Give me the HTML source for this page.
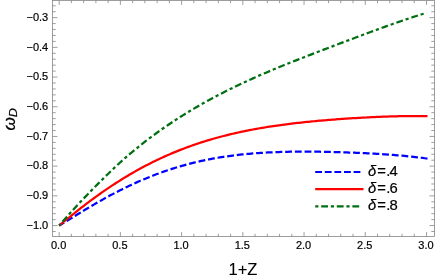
<!DOCTYPE html>
<html><head><meta charset="utf-8"><title>plot</title>
<style>
html,body{margin:0;padding:0;background:#fff;}
body{width:436px;height:280px;overflow:hidden;}
svg{display:block;will-change:transform;}
text{font-family:"Liberation Sans",sans-serif;fill:#000;stroke:#000;stroke-width:0.2px;}
</style></head><body>
<svg width="436" height="280" viewBox="0 0 436 280">
<rect x="0" y="0" width="436" height="280" fill="#fff"/>
<g fill="none" stroke-width="2.25" stroke-linejoin="round">
<path d="M59.15,225.55 L59.15,225.55 L61.00,224.42 L62.84,223.30 L64.69,222.19 L66.53,221.07 L68.38,219.96 L70.23,218.84 L72.07,217.72 L73.92,216.59 L75.76,215.44 L77.61,214.30 L79.46,213.17 L81.30,212.04 L83.15,210.92 L84.99,209.81 L86.84,208.71 L88.69,207.61 L90.53,206.52 L92.38,205.43 L94.22,204.36 L96.07,203.29 L97.92,202.23 L99.76,201.19 L101.61,200.15 L103.45,199.12 L105.30,198.10 L107.15,197.09 L108.99,196.09 L110.84,195.10 L112.68,194.12 L114.53,193.15 L116.38,192.19 L118.22,191.24 L120.07,190.31 L121.91,189.38 L123.76,188.47 L125.61,187.57 L127.45,186.68 L129.30,185.80 L131.14,184.93 L132.99,184.08 L134.84,183.23 L136.68,182.40 L138.53,181.58 L140.37,180.77 L142.22,179.98 L144.07,179.19 L145.91,178.42 L147.76,177.67 L149.60,176.92 L151.45,176.19 L153.29,175.46 L155.14,174.75 L156.99,174.06 L158.83,173.37 L160.68,172.70 L162.52,172.04 L164.37,171.39 L166.22,170.76 L168.06,170.14 L169.91,169.53 L171.75,168.93 L173.60,168.34 L175.45,167.77 L177.29,167.21 L179.14,166.66 L180.98,166.12 L182.83,165.59 L184.68,165.08 L186.52,164.58 L188.37,164.08 L190.21,163.61 L192.06,163.14 L193.91,162.68 L195.75,162.24 L197.60,161.80 L199.44,161.38 L201.29,160.97 L203.14,160.57 L204.98,160.18 L206.83,159.80 L208.67,159.43 L210.52,159.07 L212.37,158.73 L214.21,158.39 L216.06,158.06 L217.90,157.75 L219.75,157.44 L221.60,157.14 L223.44,156.85 L225.29,156.58 L227.13,156.31 L228.98,156.05 L230.83,155.80 L232.67,155.56 L234.52,155.32 L236.36,155.10 L238.21,154.89 L240.06,154.68 L241.90,154.48 L243.75,154.29 L245.59,154.11 L247.44,153.93 L249.29,153.76 L251.13,153.60 L252.98,153.45 L254.82,153.31 L256.67,153.17 L258.52,153.04 L260.36,152.92 L262.21,152.80 L264.05,152.69 L265.90,152.58 L267.75,152.48 L269.59,152.39 L271.44,152.31 L273.28,152.23 L275.13,152.15 L276.98,152.08 L278.82,152.02 L280.67,151.96 L282.51,151.91 L284.36,151.86 L286.21,151.82 L288.05,151.78 L289.90,151.74 L291.74,151.71 L293.59,151.69 L295.44,151.67 L297.28,151.65 L299.13,151.64 L300.97,151.63 L302.82,151.63 L304.67,151.63 L306.51,151.63 L308.36,151.63 L310.20,151.64 L312.05,151.66 L313.90,151.67 L315.74,151.69 L317.59,151.72 L319.43,151.74 L321.28,151.77 L323.13,151.80 L324.97,151.84 L326.82,151.87 L328.66,151.91 L330.51,151.95 L332.36,152.00 L334.20,152.05 L336.05,152.10 L337.89,152.15 L339.74,152.21 L341.58,152.26 L343.43,152.32 L345.28,152.39 L347.12,152.45 L348.97,152.52 L350.81,152.59 L352.66,152.66 L354.51,152.73 L356.35,152.81 L358.20,152.89 L360.04,152.97 L361.89,153.06 L363.74,153.14 L365.58,153.23 L367.43,153.33 L369.27,153.42 L371.12,153.52 L372.97,153.62 L374.81,153.73 L376.66,153.83 L378.50,153.95 L380.35,154.06 L382.20,154.18 L384.04,154.30 L385.89,154.42 L387.73,154.55 L389.58,154.69 L391.43,154.82 L393.27,154.96 L395.12,155.11 L396.96,155.26 L398.81,155.42 L400.66,155.58 L402.50,155.74 L404.35,155.92 L406.19,156.09 L408.04,156.28 L409.89,156.47 L411.73,156.66 L413.58,156.87 L415.42,157.08 L417.27,157.29 L419.12,157.52 L420.96,157.75 L422.81,157.99 L424.65,158.24 L426.50,158.50 L427.49,158.64" stroke="#0000ff" stroke-dasharray="6.85 2.85" stroke-dashoffset="1"/>
<path d="M59.15,225.55 L59.15,225.55 L61.00,224.02 L62.84,222.50 L64.69,220.99 L66.53,219.49 L68.38,218.01 L70.23,216.52 L72.07,215.04 L73.92,213.57 L75.76,212.09 L77.61,210.62 L79.46,209.16 L81.30,207.72 L83.15,206.28 L84.99,204.87 L86.84,203.46 L88.69,202.07 L90.53,200.69 L92.38,199.32 L94.22,197.97 L96.07,196.63 L97.92,195.30 L99.76,193.99 L101.61,192.69 L103.45,191.40 L105.30,190.13 L107.15,188.87 L108.99,187.62 L110.84,186.39 L112.68,185.17 L114.53,183.97 L116.38,182.78 L118.22,181.60 L120.07,180.44 L121.91,179.29 L123.76,178.16 L125.61,177.04 L127.45,175.93 L129.30,174.83 L131.14,173.75 L132.99,172.69 L134.84,171.64 L136.68,170.60 L138.53,169.57 L140.37,168.56 L142.22,167.56 L144.07,166.58 L145.91,165.61 L147.76,164.65 L149.60,163.71 L151.45,162.78 L153.29,161.86 L155.14,160.95 L156.99,160.06 L158.83,159.18 L160.68,158.32 L162.52,157.47 L164.37,156.63 L166.22,155.80 L168.06,154.99 L169.91,154.19 L171.75,153.40 L173.60,152.62 L175.45,151.86 L177.29,151.11 L179.14,150.37 L180.98,149.64 L182.83,148.93 L184.68,148.23 L186.52,147.54 L188.37,146.86 L190.21,146.19 L192.06,145.53 L193.91,144.89 L195.75,144.25 L197.60,143.63 L199.44,143.02 L201.29,142.42 L203.14,141.83 L204.98,141.25 L206.83,140.68 L208.67,140.12 L210.52,139.57 L212.37,139.03 L214.21,138.50 L216.06,137.99 L217.90,137.48 L219.75,136.98 L221.60,136.49 L223.44,136.01 L225.29,135.54 L227.13,135.08 L228.98,134.62 L230.83,134.18 L232.67,133.74 L234.52,133.32 L236.36,132.90 L238.21,132.49 L240.06,132.09 L241.90,131.69 L243.75,131.31 L245.59,130.93 L247.44,130.56 L249.29,130.19 L251.13,129.84 L252.98,129.49 L254.82,129.15 L256.67,128.82 L258.52,128.49 L260.36,128.17 L262.21,127.85 L264.05,127.55 L265.90,127.24 L267.75,126.95 L269.59,126.66 L271.44,126.38 L273.28,126.10 L275.13,125.83 L276.98,125.56 L278.82,125.30 L280.67,125.05 L282.51,124.80 L284.36,124.55 L286.21,124.31 L288.05,124.08 L289.90,123.85 L291.74,123.62 L293.59,123.40 L295.44,123.19 L297.28,122.97 L299.13,122.77 L300.97,122.56 L302.82,122.36 L304.67,122.17 L306.51,121.98 L308.36,121.79 L310.20,121.61 L312.05,121.42 L313.90,121.25 L315.74,121.07 L317.59,120.90 L319.43,120.74 L321.28,120.57 L323.13,120.41 L324.97,120.26 L326.82,120.10 L328.66,119.95 L330.51,119.80 L332.36,119.66 L334.20,119.52 L336.05,119.38 L337.89,119.24 L339.74,119.11 L341.58,118.97 L343.43,118.85 L345.28,118.72 L347.12,118.60 L348.97,118.47 L350.81,118.36 L352.66,118.24 L354.51,118.13 L356.35,118.02 L358.20,117.91 L360.04,117.80 L361.89,117.70 L363.74,117.60 L365.58,117.50 L367.43,117.40 L369.27,117.31 L371.12,117.22 L372.97,117.13 L374.81,117.05 L376.66,116.97 L378.50,116.89 L380.35,116.81 L382.20,116.74 L384.04,116.67 L385.89,116.60 L387.73,116.54 L389.58,116.48 L391.43,116.42 L393.27,116.37 L395.12,116.32 L396.96,116.27 L398.81,116.23 L400.66,116.19 L402.50,116.16 L404.35,116.13 L406.19,116.10 L408.04,116.08 L409.89,116.06 L411.73,116.05 L413.58,116.04 L415.42,116.04 L417.27,116.04 L419.12,116.05 L420.96,116.06 L422.81,116.08 L424.65,116.10 L426.50,116.13 L427.50,116.15" stroke="#ff0000"/>
<path d="M59.15,225.55 L59.15,225.55 L61.00,223.43 L62.84,221.32 L64.69,219.22 L66.53,217.14 L68.38,215.07 L70.23,213.02 L72.07,210.98 L73.92,208.95 L75.76,206.94 L77.61,204.95 L79.46,202.97 L81.30,201.00 L83.15,199.05 L84.99,197.11 L86.84,195.19 L88.69,193.28 L90.53,191.39 L92.38,189.50 L94.22,187.62 L96.07,185.75 L97.92,183.89 L99.76,182.03 L101.61,180.19 L103.45,178.36 L105.30,176.53 L107.15,174.73 L108.99,172.93 L110.84,171.15 L112.68,169.39 L114.53,167.64 L116.38,165.91 L118.22,164.20 L120.07,162.51 L121.91,160.84 L123.76,159.19 L125.61,157.57 L127.45,155.96 L129.30,154.38 L131.14,152.83 L132.99,151.29 L134.84,149.77 L136.68,148.26 L138.53,146.77 L140.37,145.30 L142.22,143.84 L144.07,142.40 L145.91,140.98 L147.76,139.57 L149.60,138.17 L151.45,136.79 L153.29,135.42 L155.14,134.07 L156.99,132.73 L158.83,131.40 L160.68,130.09 L162.52,128.79 L164.37,127.50 L166.22,126.23 L168.06,124.97 L169.91,123.72 L171.75,122.49 L173.60,121.26 L175.45,120.06 L177.29,118.86 L179.14,117.68 L180.98,116.50 L182.83,115.34 L184.68,114.20 L186.52,113.06 L188.37,111.93 L190.21,110.82 L192.06,109.71 L193.91,108.62 L195.75,107.54 L197.60,106.46 L199.44,105.40 L201.29,104.34 L203.14,103.30 L204.98,102.27 L206.83,101.24 L208.67,100.23 L210.52,99.22 L212.37,98.22 L214.21,97.24 L216.06,96.26 L217.90,95.29 L219.75,94.33 L221.60,93.38 L223.44,92.43 L225.29,91.50 L227.13,90.57 L228.98,89.65 L230.83,88.74 L232.67,87.83 L234.52,86.94 L236.36,86.05 L238.21,85.17 L240.06,84.29 L241.90,83.42 L243.75,82.56 L245.59,81.71 L247.44,80.86 L249.29,80.02 L251.13,79.18 L252.98,78.35 L254.82,77.53 L256.67,76.71 L258.52,75.90 L260.36,75.09 L262.21,74.29 L264.05,73.49 L265.90,72.70 L267.75,71.92 L269.59,71.13 L271.44,70.36 L273.28,69.58 L275.13,68.82 L276.98,68.05 L278.82,67.29 L280.67,66.53 L282.51,65.78 L284.36,65.03 L286.21,64.29 L288.05,63.54 L289.90,62.80 L291.74,62.07 L293.59,61.33 L295.44,60.60 L297.28,59.87 L299.13,59.15 L300.97,58.42 L302.82,57.70 L304.67,56.98 L306.51,56.26 L308.36,55.55 L310.20,54.83 L312.05,54.12 L313.90,53.41 L315.74,52.70 L317.59,51.99 L319.43,51.28 L321.28,50.58 L323.13,49.87 L324.97,49.17 L326.82,48.46 L328.66,47.76 L330.51,47.06 L332.36,46.36 L334.20,45.66 L336.05,44.96 L337.89,44.26 L339.74,43.56 L341.58,42.86 L343.43,42.17 L345.28,41.47 L347.12,40.77 L348.97,40.08 L350.81,39.38 L352.66,38.69 L354.51,37.99 L356.35,37.30 L358.20,36.61 L360.04,35.92 L361.89,35.23 L363.74,34.54 L365.58,33.86 L367.43,33.17 L369.27,32.49 L371.12,31.81 L372.97,31.13 L374.81,30.45 L376.66,29.78 L378.50,29.10 L380.35,28.43 L382.20,27.76 L384.04,27.10 L385.89,26.43 L387.73,25.77 L389.58,25.11 L391.43,24.46 L393.27,23.80 L395.12,23.15 L396.96,22.51 L398.81,21.87 L400.66,21.23 L402.50,20.59 L404.35,19.96 L406.19,19.34 L408.04,18.72 L409.89,18.10 L411.73,17.50 L413.58,16.89 L415.42,16.29 L417.27,15.70 L419.12,15.11 L420.96,14.54 L422.81,13.96 L424.65,13.40 L426.50,12.84 L426.50,12.84" stroke="#006f12" stroke-dasharray="3.2 2.89 6.8 2.89" stroke-dashoffset="1"/>
</g>
<g stroke="#858585" stroke-width="0.8" fill="none">
<rect x="52.5" y="0.5" width="382.00" height="236.00"/>
</g>
<g stroke="#858585" stroke-width="0.8" fill="none">
<line x1="59.15" y1="236.5" x2="59.15" y2="232.10"/>
<line x1="59.15" y1="0.5" x2="59.15" y2="4.90"/>
<line x1="71.39" y1="236.5" x2="71.39" y2="233.80"/>
<line x1="71.39" y1="0.5" x2="71.39" y2="3.20"/>
<line x1="83.64" y1="236.5" x2="83.64" y2="233.80"/>
<line x1="83.64" y1="0.5" x2="83.64" y2="3.20"/>
<line x1="95.88" y1="236.5" x2="95.88" y2="233.80"/>
<line x1="95.88" y1="0.5" x2="95.88" y2="3.20"/>
<line x1="108.13" y1="236.5" x2="108.13" y2="233.80"/>
<line x1="108.13" y1="0.5" x2="108.13" y2="3.20"/>
<line x1="120.38" y1="236.5" x2="120.38" y2="232.10"/>
<line x1="120.38" y1="0.5" x2="120.38" y2="4.90"/>
<line x1="132.62" y1="236.5" x2="132.62" y2="233.80"/>
<line x1="132.62" y1="0.5" x2="132.62" y2="3.20"/>
<line x1="144.87" y1="236.5" x2="144.87" y2="233.80"/>
<line x1="144.87" y1="0.5" x2="144.87" y2="3.20"/>
<line x1="157.11" y1="236.5" x2="157.11" y2="233.80"/>
<line x1="157.11" y1="0.5" x2="157.11" y2="3.20"/>
<line x1="169.35" y1="236.5" x2="169.35" y2="233.80"/>
<line x1="169.35" y1="0.5" x2="169.35" y2="3.20"/>
<line x1="181.60" y1="236.5" x2="181.60" y2="232.10"/>
<line x1="181.60" y1="0.5" x2="181.60" y2="4.90"/>
<line x1="193.84" y1="236.5" x2="193.84" y2="233.80"/>
<line x1="193.84" y1="0.5" x2="193.84" y2="3.20"/>
<line x1="206.09" y1="236.5" x2="206.09" y2="233.80"/>
<line x1="206.09" y1="0.5" x2="206.09" y2="3.20"/>
<line x1="218.34" y1="236.5" x2="218.34" y2="233.80"/>
<line x1="218.34" y1="0.5" x2="218.34" y2="3.20"/>
<line x1="230.58" y1="236.5" x2="230.58" y2="233.80"/>
<line x1="230.58" y1="0.5" x2="230.58" y2="3.20"/>
<line x1="242.83" y1="236.5" x2="242.83" y2="232.10"/>
<line x1="242.83" y1="0.5" x2="242.83" y2="4.90"/>
<line x1="255.07" y1="236.5" x2="255.07" y2="233.80"/>
<line x1="255.07" y1="0.5" x2="255.07" y2="3.20"/>
<line x1="267.31" y1="236.5" x2="267.31" y2="233.80"/>
<line x1="267.31" y1="0.5" x2="267.31" y2="3.20"/>
<line x1="279.56" y1="236.5" x2="279.56" y2="233.80"/>
<line x1="279.56" y1="0.5" x2="279.56" y2="3.20"/>
<line x1="291.81" y1="236.5" x2="291.81" y2="233.80"/>
<line x1="291.81" y1="0.5" x2="291.81" y2="3.20"/>
<line x1="304.05" y1="236.5" x2="304.05" y2="232.10"/>
<line x1="304.05" y1="0.5" x2="304.05" y2="4.90"/>
<line x1="316.30" y1="236.5" x2="316.30" y2="233.80"/>
<line x1="316.30" y1="0.5" x2="316.30" y2="3.20"/>
<line x1="328.54" y1="236.5" x2="328.54" y2="233.80"/>
<line x1="328.54" y1="0.5" x2="328.54" y2="3.20"/>
<line x1="340.78" y1="236.5" x2="340.78" y2="233.80"/>
<line x1="340.78" y1="0.5" x2="340.78" y2="3.20"/>
<line x1="353.03" y1="236.5" x2="353.03" y2="233.80"/>
<line x1="353.03" y1="0.5" x2="353.03" y2="3.20"/>
<line x1="365.27" y1="236.5" x2="365.27" y2="232.10"/>
<line x1="365.27" y1="0.5" x2="365.27" y2="4.90"/>
<line x1="377.52" y1="236.5" x2="377.52" y2="233.80"/>
<line x1="377.52" y1="0.5" x2="377.52" y2="3.20"/>
<line x1="389.76" y1="236.5" x2="389.76" y2="233.80"/>
<line x1="389.76" y1="0.5" x2="389.76" y2="3.20"/>
<line x1="402.01" y1="236.5" x2="402.01" y2="233.80"/>
<line x1="402.01" y1="0.5" x2="402.01" y2="3.20"/>
<line x1="414.25" y1="236.5" x2="414.25" y2="233.80"/>
<line x1="414.25" y1="0.5" x2="414.25" y2="3.20"/>
<line x1="426.50" y1="236.5" x2="426.50" y2="232.10"/>
<line x1="426.50" y1="0.5" x2="426.50" y2="4.90"/>
<line x1="52.5" y1="231.49" x2="55.70" y2="231.49"/>
<line x1="434.5" y1="231.49" x2="431.30" y2="231.49"/>
<line x1="52.5" y1="225.55" x2="57.50" y2="225.55"/>
<line x1="434.5" y1="225.55" x2="429.50" y2="225.55"/>
<line x1="52.5" y1="219.61" x2="55.70" y2="219.61"/>
<line x1="434.5" y1="219.61" x2="431.30" y2="219.61"/>
<line x1="52.5" y1="213.67" x2="55.70" y2="213.67"/>
<line x1="434.5" y1="213.67" x2="431.30" y2="213.67"/>
<line x1="52.5" y1="207.73" x2="55.70" y2="207.73"/>
<line x1="434.5" y1="207.73" x2="431.30" y2="207.73"/>
<line x1="52.5" y1="201.79" x2="55.70" y2="201.79"/>
<line x1="434.5" y1="201.79" x2="431.30" y2="201.79"/>
<line x1="52.5" y1="195.85" x2="57.50" y2="195.85"/>
<line x1="434.5" y1="195.85" x2="429.50" y2="195.85"/>
<line x1="52.5" y1="189.91" x2="55.70" y2="189.91"/>
<line x1="434.5" y1="189.91" x2="431.30" y2="189.91"/>
<line x1="52.5" y1="183.97" x2="55.70" y2="183.97"/>
<line x1="434.5" y1="183.97" x2="431.30" y2="183.97"/>
<line x1="52.5" y1="178.03" x2="55.70" y2="178.03"/>
<line x1="434.5" y1="178.03" x2="431.30" y2="178.03"/>
<line x1="52.5" y1="172.09" x2="55.70" y2="172.09"/>
<line x1="434.5" y1="172.09" x2="431.30" y2="172.09"/>
<line x1="52.5" y1="166.15" x2="57.50" y2="166.15"/>
<line x1="434.5" y1="166.15" x2="429.50" y2="166.15"/>
<line x1="52.5" y1="160.21" x2="55.70" y2="160.21"/>
<line x1="434.5" y1="160.21" x2="431.30" y2="160.21"/>
<line x1="52.5" y1="154.27" x2="55.70" y2="154.27"/>
<line x1="434.5" y1="154.27" x2="431.30" y2="154.27"/>
<line x1="52.5" y1="148.33" x2="55.70" y2="148.33"/>
<line x1="434.5" y1="148.33" x2="431.30" y2="148.33"/>
<line x1="52.5" y1="142.39" x2="55.70" y2="142.39"/>
<line x1="434.5" y1="142.39" x2="431.30" y2="142.39"/>
<line x1="52.5" y1="136.45" x2="57.50" y2="136.45"/>
<line x1="434.5" y1="136.45" x2="429.50" y2="136.45"/>
<line x1="52.5" y1="130.51" x2="55.70" y2="130.51"/>
<line x1="434.5" y1="130.51" x2="431.30" y2="130.51"/>
<line x1="52.5" y1="124.57" x2="55.70" y2="124.57"/>
<line x1="434.5" y1="124.57" x2="431.30" y2="124.57"/>
<line x1="52.5" y1="118.63" x2="55.70" y2="118.63"/>
<line x1="434.5" y1="118.63" x2="431.30" y2="118.63"/>
<line x1="52.5" y1="112.69" x2="55.70" y2="112.69"/>
<line x1="434.5" y1="112.69" x2="431.30" y2="112.69"/>
<line x1="52.5" y1="106.75" x2="57.50" y2="106.75"/>
<line x1="434.5" y1="106.75" x2="429.50" y2="106.75"/>
<line x1="52.5" y1="100.81" x2="55.70" y2="100.81"/>
<line x1="434.5" y1="100.81" x2="431.30" y2="100.81"/>
<line x1="52.5" y1="94.87" x2="55.70" y2="94.87"/>
<line x1="434.5" y1="94.87" x2="431.30" y2="94.87"/>
<line x1="52.5" y1="88.93" x2="55.70" y2="88.93"/>
<line x1="434.5" y1="88.93" x2="431.30" y2="88.93"/>
<line x1="52.5" y1="82.99" x2="55.70" y2="82.99"/>
<line x1="434.5" y1="82.99" x2="431.30" y2="82.99"/>
<line x1="52.5" y1="77.05" x2="57.50" y2="77.05"/>
<line x1="434.5" y1="77.05" x2="429.50" y2="77.05"/>
<line x1="52.5" y1="71.11" x2="55.70" y2="71.11"/>
<line x1="434.5" y1="71.11" x2="431.30" y2="71.11"/>
<line x1="52.5" y1="65.17" x2="55.70" y2="65.17"/>
<line x1="434.5" y1="65.17" x2="431.30" y2="65.17"/>
<line x1="52.5" y1="59.23" x2="55.70" y2="59.23"/>
<line x1="434.5" y1="59.23" x2="431.30" y2="59.23"/>
<line x1="52.5" y1="53.29" x2="55.70" y2="53.29"/>
<line x1="434.5" y1="53.29" x2="431.30" y2="53.29"/>
<line x1="52.5" y1="47.35" x2="57.50" y2="47.35"/>
<line x1="434.5" y1="47.35" x2="429.50" y2="47.35"/>
<line x1="52.5" y1="41.41" x2="55.70" y2="41.41"/>
<line x1="434.5" y1="41.41" x2="431.30" y2="41.41"/>
<line x1="52.5" y1="35.47" x2="55.70" y2="35.47"/>
<line x1="434.5" y1="35.47" x2="431.30" y2="35.47"/>
<line x1="52.5" y1="29.53" x2="55.70" y2="29.53"/>
<line x1="434.5" y1="29.53" x2="431.30" y2="29.53"/>
<line x1="52.5" y1="23.59" x2="55.70" y2="23.59"/>
<line x1="434.5" y1="23.59" x2="431.30" y2="23.59"/>
<line x1="52.5" y1="17.65" x2="57.50" y2="17.65"/>
<line x1="434.5" y1="17.65" x2="429.50" y2="17.65"/>
<line x1="52.5" y1="11.71" x2="55.70" y2="11.71"/>
<line x1="434.5" y1="11.71" x2="431.30" y2="11.71"/>
<line x1="52.5" y1="5.77" x2="55.70" y2="5.77"/>
<line x1="434.5" y1="5.77" x2="431.30" y2="5.77"/>
</g>
<g font-size="11px">
<text x="58.65" y="249.3" text-anchor="middle">0.0</text>
<text x="119.88" y="249.3" text-anchor="middle">0.5</text>
<text x="181.10" y="249.3" text-anchor="middle">1.0</text>
<text x="242.33" y="249.3" text-anchor="middle">1.5</text>
<text x="303.55" y="249.3" text-anchor="middle">2.0</text>
<text x="364.77" y="249.3" text-anchor="middle">2.5</text>
<text x="426.00" y="249.3" text-anchor="middle">3.0</text>
<text x="48.2" y="228.80" text-anchor="end">−1.0</text>
<text x="48.2" y="199.10" text-anchor="end">−0.9</text>
<text x="48.2" y="169.40" text-anchor="end">−0.8</text>
<text x="48.2" y="139.70" text-anchor="end">−0.7</text>
<text x="48.2" y="110.00" text-anchor="end">−0.6</text>
<text x="48.2" y="80.30" text-anchor="end">−0.5</text>
<text x="48.2" y="50.60" text-anchor="end">−0.4</text>
<text x="48.2" y="20.90" text-anchor="end">−0.3</text>
</g>
<text x="243.0" y="275" font-size="16.5px" text-anchor="middle" style="stroke-width:0.1px">1+Z</text>
<g font-style="italic">
<text transform="translate(14.5,130.6) rotate(-90) scale(1.07,1)" font-size="16px">&#969;</text>
<text transform="translate(17.2,117.3) rotate(-90) scale(1.12,1)" font-size="11.3px">D</text>
</g>
<g fill="none" stroke-width="2.2">
<line x1="315.2" y1="172" x2="360.4" y2="172" stroke="#0000ff" stroke-dasharray="6.8 2.8"/>
<line x1="315.2" y1="189.2" x2="363.5" y2="189.2" stroke="#ff0000"/>
<line x1="315.2" y1="206.3" x2="359.2" y2="206.3" stroke="#006f12" stroke-dasharray="3.2 2.8 6.8 2.8"/>
</g>
<g font-size="14.8px">
<text y="175.8"><tspan x="368" font-style="italic">&#948;</tspan><tspan x="377.2">=</tspan><tspan x="386.2">.</tspan><tspan x="389.5">4</tspan></text>
<text y="193"><tspan x="368" font-style="italic">&#948;</tspan><tspan x="377.2">=</tspan><tspan x="386.2">.</tspan><tspan x="389.5">6</tspan></text>
<text y="210.2"><tspan x="368" font-style="italic">&#948;</tspan><tspan x="377.2">=</tspan><tspan x="386.2">.</tspan><tspan x="389.5">8</tspan></text>
</g>
</svg>
</body></html>
